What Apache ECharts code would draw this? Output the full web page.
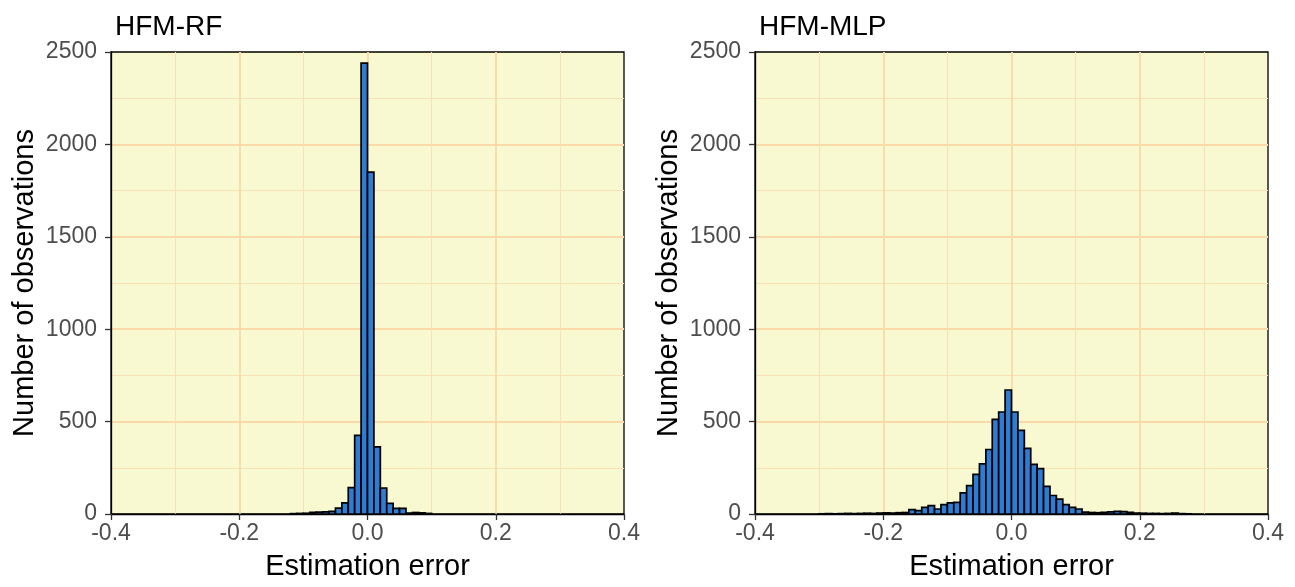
<!DOCTYPE html>
<html>
<head>
<meta charset="utf-8">
<script src="https://cdn.jsdelivr.net/npm/echarts@6/dist/echarts.min.js"></script>
<style>
  html, body { margin: 0; padding: 0; background: #ffffff; }
  #chart { width: 1295px; height: 587px; }
</style>
</head>
<body>
<div id="chart"></div>
<script>
// Histogram bins: left edge of each bin, all bins share the same width
const binWidth = 0.01;
const binStarts = [
  -0.30, -0.29, -0.28, -0.27, -0.26, -0.25, -0.24, -0.23, -0.22, -0.21,
  -0.20, -0.19, -0.18, -0.17, -0.16, -0.15, -0.14, -0.13, -0.12, -0.11,
  -0.10, -0.09, -0.08, -0.07, -0.06, -0.05, -0.04, -0.03, -0.02, -0.01,
   0.00,  0.01,  0.02,  0.03,  0.04,  0.05,  0.06,  0.07,  0.08,  0.09,
   0.10,  0.11,  0.12,  0.13,  0.14,  0.15,  0.16,  0.17,  0.18,  0.19,
   0.20,  0.21,  0.22,  0.23,  0.24,  0.25,  0.26,  0.27
];

// Number of observations per bin, HFM-RF
const rfCounts = [
     0,    0,    0,    0,    0,    0,    0,    0,    0,    0,
     0,    0,    0,    0,    0,    0,    0,    0,    2,    3,
     4,    9,   10,   11,   14,   32,   60,  143,  425, 2440,
  1850,  363,  140,   58,   30,   30,    5,    8,    6,    3,
     0,    0,    0,    0,    0,    0,    0,    0,    0,    0,
     0,    0,    0,    0,    0,    0,    0,    0
];

// Number of observations per bin, HFM-MLP
const mlpCounts = [
     1,    2,    1,    2,    3,    2,    3,    4,    3,    5,
     6,    5,    7,    8,   24,   18,   36,   45,   27,   51,
    60,   63,  114,  154,  214,  271,  349,  512,  552,  671,
   552,  452,  355,  268,  246,  150,  100,   81,   51,   36,
    27,   10,    8,    7,    9,   12,   14,   13,    9,    5,
     4,    3,    3,    2,    3,    5,    2,    1
];

const panelTitles = ['HFM-RF', 'HFM-MLP'];
const xTitle = 'Estimation error';
const yTitle = 'Number of observations';
const xRange = { min: -0.4, max: 0.4, step: 0.2 };
const yRange = { min: 0, max: 2500, step: 500 };

const FONT = '"Liberation Sans", Arial, sans-serif';
const PANEL_BG = '#F8F8D1';
const GRID_MAJOR = '#FBD9A8';
const GRID_MINOR = '#FAE0B6';
const BAR_FILL = '#2E7CD4';

function binsFor(counts) {
  return binStarts
    .map((s, i) => [s, s + binWidth, counts[i]])
    .filter(d => d[2] > 0);
}

function renderBin(params, api) {
  const lo = api.coord([api.value(0), 0]);
  const hi = api.coord([api.value(1), api.value(2)]);
  return {
    type: 'rect',
    shape: { x: lo[0], y: hi[1], width: hi[0] - lo[0], height: lo[1] - hi[1] },
    style: { fill: BAR_FILL, stroke: '#000000', lineWidth: 1.7 }
  };
}

function xAxisFor(gridIndex) {
  return {
    type: 'value', gridIndex,
    min: xRange.min, max: xRange.max, interval: xRange.step,
    name: xTitle, nameLocation: 'middle', nameGap: 38,
    nameTextStyle: { fontSize: 29, color: '#000000', fontFamily: FONT },
    axisLine: { show: true, onZero: false, lineStyle: { color: '#000000', width: 1.3 } },
    axisTick: { show: true, length: 6, lineStyle: { color: '#333333', width: 1.3 } },
    axisLabel: { fontSize: 23, color: '#4D4D4D', margin: 8, fontFamily: FONT,
                 formatter: v => v.toFixed(1) },
    splitLine: { show: true, showMinLine: false, showMaxLine: false,
                 lineStyle: { color: GRID_MAJOR, width: 1.8 } },
    minorTick: { show: false, splitNumber: 2 },
    minorSplitLine: { show: true, lineStyle: { color: GRID_MINOR, width: 1.1 } }
  };
}

function yAxisFor(gridIndex) {
  return {
    type: 'value', gridIndex,
    min: yRange.min, max: yRange.max, interval: yRange.step,
    name: yTitle, nameLocation: 'middle', nameGap: 72, nameRotate: 90,
    nameTextStyle: { fontSize: 29, color: '#000000', fontFamily: FONT },
    axisLine: { show: true, onZero: false, lineStyle: { color: '#000000', width: 1.3 } },
    axisTick: { show: true, length: 6, lineStyle: { color: '#333333', width: 1.3 } },
    axisLabel: { fontSize: 23, color: '#4D4D4D', margin: 14, fontFamily: FONT,
                 formatter: v => String(v) },
    splitLine: { show: true, showMinLine: false, showMaxLine: false,
                 lineStyle: { color: GRID_MAJOR, width: 1.8 } },
    minorTick: { show: false, splitNumber: 2 },
    minorSplitLine: { show: true, lineStyle: { color: GRID_MINOR, width: 1.1 } }
  };
}

const panelLeft = [111, 755];
const chart = echarts.init(document.getElementById('chart'), null, { renderer: 'canvas' });

chart.setOption({
  animation: false,
  backgroundColor: '#ffffff',
  textStyle: { fontFamily: FONT },
  title: panelTitles.map((t, i) => ({
    text: t, left: panelLeft[i] - 1, top: 8,
    textStyle: { fontSize: 28, fontWeight: 'normal', color: '#000000', fontFamily: FONT }
  })),
  grid: panelLeft.map(l => ({
    left: l, top: 52, width: 513, height: 462,
    show: true, backgroundColor: PANEL_BG, borderColor: '#000000', borderWidth: 1.3
  })),
  xAxis: [xAxisFor(0), xAxisFor(1)],
  yAxis: [yAxisFor(0), yAxisFor(1)],
  series: [rfCounts, mlpCounts].map((counts, i) => ({
    type: 'custom',
    xAxisIndex: i, yAxisIndex: i,
    renderItem: renderBin,
    encode: { x: [0, 1], y: 2 },
    data: binsFor(counts),
    z: 3
  }))
});
</script>
</body>
</html>
